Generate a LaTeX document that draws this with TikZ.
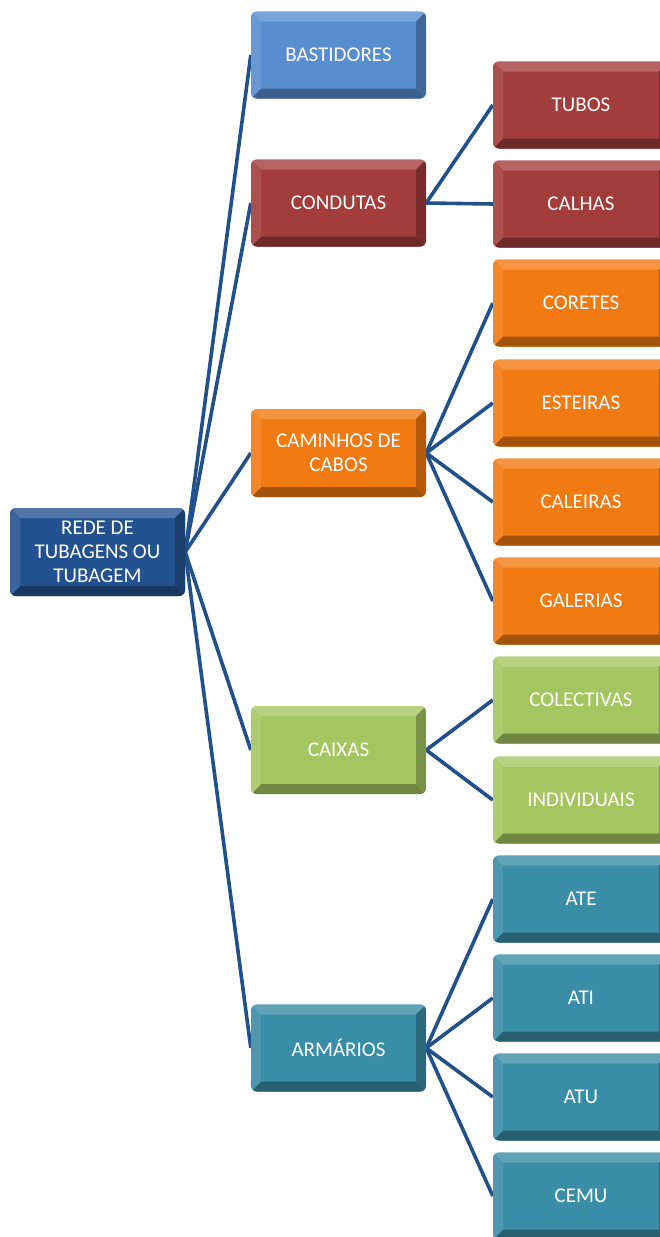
\documentclass[tikz,border=0pt]{standalone}
\usepackage{fontspec}
\setmainfont{Carlito}
\usetikzlibrary{backgrounds}
\definecolor{rootblue}{HTML}{245290}
\definecolor{lightblue}{HTML}{588DD0}
\definecolor{brickred}{HTML}{A23D3B}
\definecolor{orangebox}{HTML}{F27A12}
\definecolor{greenbox}{HTML}{A5C560}
\definecolor{tealbox}{HTML}{3A8DA6}
\definecolor{linkblue}{HTML}{21508A}
\tikzset{
  bevelbox/.style={
    rounded corners=6pt, fill=#1, minimum width=176pt, minimum height=87pt,
    inner sep=0pt, text=white, align=center,
    font=\fontsize{21}{24}\selectfont,
    path picture={
      \begin{scope}[sharp corners]
        \fill[#1!80!white]
          (path picture bounding box.north west) -- (path picture bounding box.north east)
          -- ([xshift=-10pt,yshift=-10pt]path picture bounding box.north east)
          -- ([xshift=10pt,yshift=-10pt]path picture bounding box.north west) -- cycle;
        \fill[#1!68!black]
          (path picture bounding box.south west) -- (path picture bounding box.south east)
          -- ([xshift=-10pt,yshift=10pt]path picture bounding box.south east)
          -- ([xshift=10pt,yshift=10pt]path picture bounding box.south west) -- cycle;
        \fill[#1!90!white]
          (path picture bounding box.north west)
          -- ([xshift=10pt,yshift=-10pt]path picture bounding box.north west)
          -- ([xshift=10pt,yshift=10pt]path picture bounding box.south west)
          -- (path picture bounding box.south west) -- cycle;
        \fill[#1!74!black]
          (path picture bounding box.north east)
          -- ([xshift=-10pt,yshift=-10pt]path picture bounding box.north east)
          -- ([xshift=-10pt,yshift=10pt]path picture bounding box.south east)
          -- (path picture bounding box.south east) -- cycle;
      \end{scope}
    }
  },
  link/.style={draw=linkblue, line width=3.6pt}
}
\begin{document}
\begin{tikzpicture}[x=1pt,y=-1pt]
  \useasboundingbox (0,0) rectangle (660,1237);

  % root
  \node[bevelbox=rootblue, minimum width=175pt, minimum height=88pt] (root) at (97.5,552)
    {REDE DE\\TUBAGENS OU\\TUBAGEM};

  % first level
  \node[bevelbox=lightblue, minimum width=175pt] (bast) at (338.5,55) {BASTIDORES};
  \node[bevelbox=brickred, minimum width=175pt] (cond) at (338.5,203) {CONDUTAS};
  \node[bevelbox=orangebox, minimum width=175pt, minimum height=88pt] (cam) at (338.5,453) {CAMINHOS DE\\CABOS};
  \node[bevelbox=greenbox, minimum width=175pt, minimum height=88pt] (caix) at (338.5,750) {CAIXAS};
  \node[bevelbox=tealbox, minimum width=175pt] (arm) at (338.5,1048) {ARMÁRIOS};

  % second level
  \node[bevelbox=brickred]  (tubos) at (581,105)  {TUBOS};
  \node[bevelbox=brickred]  (calh)  at (581,204)  {CALHAS};
  \node[bevelbox=orangebox] (cor)   at (581,303)  {CORETES};
  \node[bevelbox=orangebox] (est)   at (581,403)  {ESTEIRAS};
  \node[bevelbox=orangebox] (cale)  at (581,502)  {CALEIRAS};
  \node[bevelbox=orangebox] (gal)   at (581,601)  {GALERIAS};
  \node[bevelbox=greenbox]  (col)   at (581,700)  {COLECTIVAS};
  \node[bevelbox=greenbox]  (ind)   at (581,800)  {INDIVIDUAIS};
  \node[bevelbox=tealbox]   (ate)   at (581,899)  {ATE};
  \node[bevelbox=tealbox]   (ati)   at (581,998)  {ATI};
  \node[bevelbox=tealbox]   (atu)   at (581,1097) {ATU};
  \node[bevelbox=tealbox]   (cemu)  at (581,1196) {CEMU};

  % connectors, kept behind the boxes
  \begin{scope}[on background layer]
    \foreach \t in {bast,cond,cam,caix,arm}
      \draw[link] (root.east) -- (\t.west);
    \foreach \t in {tubos,calh}
      \draw[link] (cond.east) -- (\t.west);
    \foreach \t in {cor,est,cale,gal}
      \draw[link] (cam.east) -- (\t.west);
    \foreach \t in {col,ind}
      \draw[link] (caix.east) -- (\t.west);
    \foreach \t in {ate,ati,atu,cemu}
      \draw[link] (arm.east) -- (\t.west);
  \end{scope}
\end{tikzpicture}
\end{document}
